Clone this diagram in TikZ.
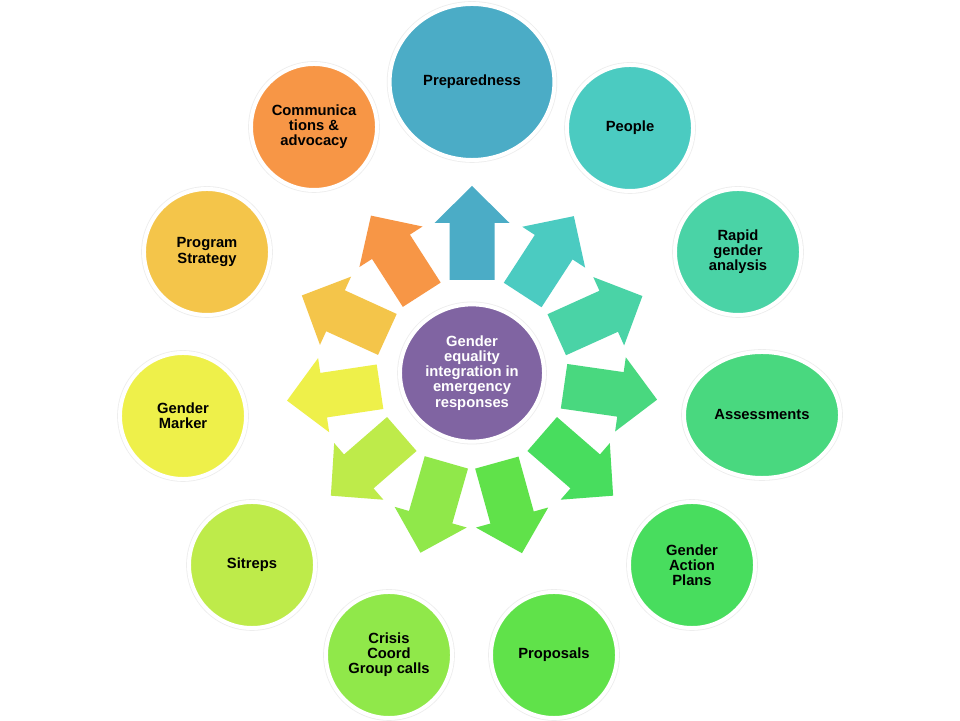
\documentclass[tikz,border=0pt]{standalone}
\usepackage{fontspec}
\setmainfont{Liberation Sans}
\usepackage{xcolor}
\usepackage{tikz}
\usetikzlibrary{shapes.geometric}
\definecolor{hubpurple}{HTML}{8064A2}
\definecolor{prepblue}{HTML}{4BACC6}
\definecolor{peopleteal}{HTML}{4BCBC1}
\definecolor{rapidgreen}{HTML}{4AD3A6}
\definecolor{assessgreen}{HTML}{49D87F}
\definecolor{gapgreen}{HTML}{48DD5E}
\definecolor{propgreen}{HTML}{60E24A}
\definecolor{crisisgreen}{HTML}{90E84A}
\definecolor{sitlime}{HTML}{BEEB4A}
\definecolor{markeryellow}{HTML}{EEF04A}
\definecolor{stratgold}{HTML}{F4C54A}
\definecolor{commorange}{HTML}{F79646}

\begin{document}
\begin{tikzpicture}[x=0.025cm,y=0.025cm,
  every node/.style={font=\fontsize{10.5}{10.8}\selectfont\bfseries,align=center},
  bubble/.style={circle,minimum size=3.15cm,inner sep=0pt,draw=white,line width=0.1cm,
    preaction={draw=black!7,line width=0.14cm}},
  oval/.style={bubble,ellipse}]
\useasboundingbox[fill=white] (0,0) rectangle (960,721);

% hub and the eleven bubbles round it
\node[bubble,fill=hubpurple,text=white,minimum width=3.6cm,minimum height=3.43cm,ellipse] (hub) at (472,348)
  {Gender\\equality\\integration in\\emergency\\responses};
\node[oval,fill=prepblue,minimum width=4.12cm,minimum height=3.9cm] (prep) at (472,639) {Preparedness};
\node[bubble,fill=peopleteal] (people) at (630,593) {People};
\node[bubble,fill=rapidgreen] (rapid) at (738,469) {Rapid\\gender\\analysis};
\node[oval,fill=assessgreen,minimum width=3.9cm,minimum height=3.15cm] (assess) at (762,306) {Assessments};
\node[bubble,fill=gapgreen] (gap) at (692,156) {Gender\\Action\\Plans};
\node[bubble,fill=propgreen] (prop) at (554,66) {Proposals};
\node[bubble,fill=crisisgreen] (crisis) at (389,66) {Crisis\\Coord\\Group calls};
\node[bubble,fill=sitlime] (sitreps) at (252,156) {Sitreps};
\node[bubble,fill=markeryellow] (marker) at (183,305) {Gender\\Marker};
\node[bubble,fill=stratgold] (strategy) at (207,469) {Program\\Strategy};
\node[bubble,fill=commorange] (comm) at (314,594) {Communica\\tions \&\\advocacy};

% block arrows pointing out from the hub
\foreach \a/\c in {90/prepblue,57/peopleteal,24.3/rapidgreen,-8.2/assessgreen,
    -41/gapgreen,-74.5/propgreen,-106/crisisgreen,-139/sitlime,
    188.5/markeryellow,155.5/stratgold,122.7/commorange}
  \fill[\c,shift={(hub)},rotate=\a]
    (93,-22.5) -- (150,-22.5) -- (150,-37.5) -- (187,0) -- (150,37.5) -- (150,22.5) -- (93,22.5) -- cycle;
\end{tikzpicture}
\end{document}
